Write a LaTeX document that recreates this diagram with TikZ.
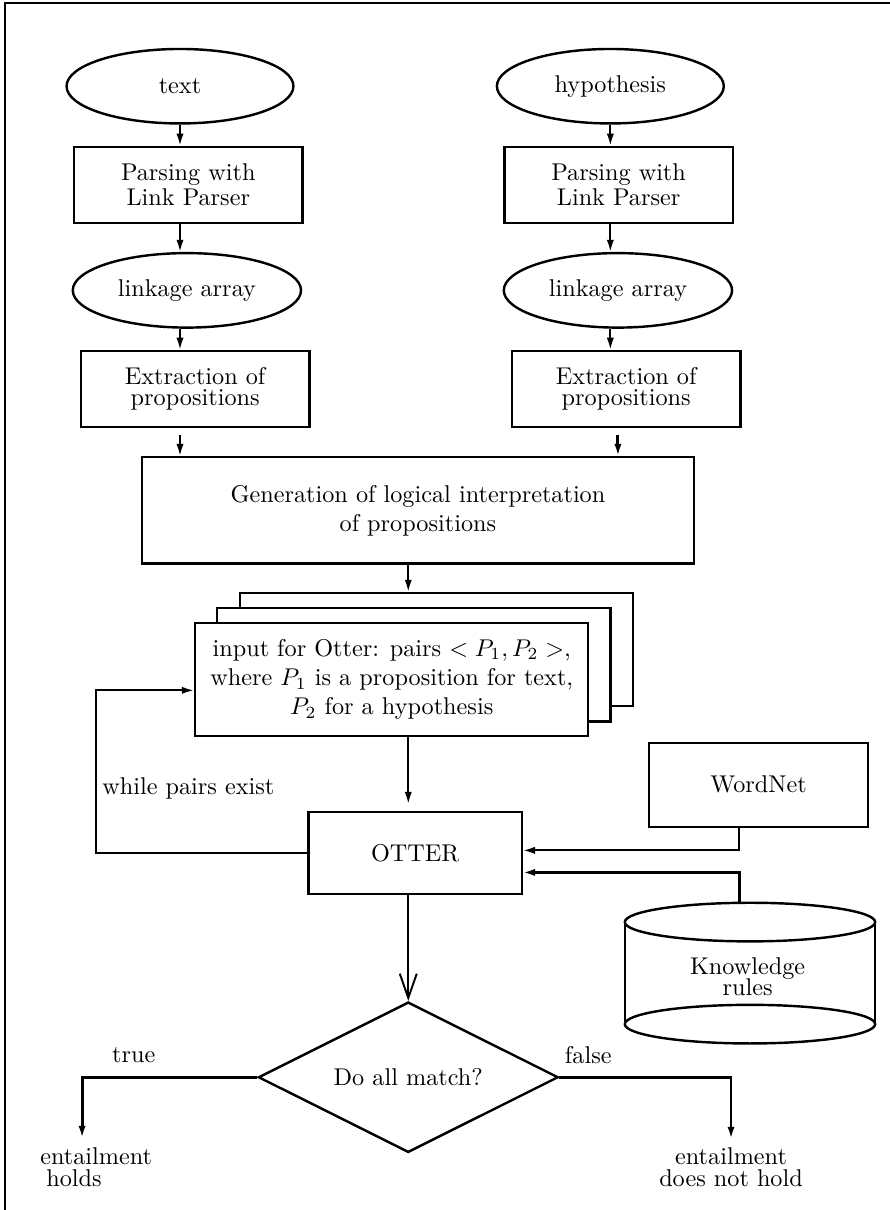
\documentclass[tikz,border=0pt]{standalone}
\usetikzlibrary{shapes.geometric, arrows.meta, calc}

\tikzset{
    box/.style={draw, line width=1pt, rectangle, align=center, fill=white,
        minimum width=3.31cm, minimum height=1.10cm},
    oval/.style={draw, line width=1pt, ellipse, minimum width=3.29cm, minimum height=1.08cm},
    arr/.style={thick, -{Latex[length=5pt,width=3pt]}},
}

\begin{document}
\begin{tikzpicture}
            \useasboundingbox (0,0) rectangle (12.905,-17.545);
            \draw[line width=1pt] (0.07,-17.6) -- (0.07,-0.04) -- (12.95,-0.04);

            % two input columns
            \node[oval] (text) at (2.61,-1.25) {text};
            \node[oval] (hyp) at (8.85,-1.25) {hypothesis};
            \node[box] (parse1) at (2.73,-2.68) {Parsing with\\[-1.7pt] Link Parser};
            \node[box] (parse2) at (8.97,-2.68) {Parsing with\\[-1.7pt] Link Parser};
            \node[oval, minimum width=3.31cm] (link1) at (2.71,-4.21) {linkage array};
            \node[oval, minimum width=3.31cm] (link2) at (8.96,-4.21) {linkage array};
            \node[box] (extr1) at (2.83,-5.64) {Extraction of\\[-3.2pt] propositions};
            \node[box] (extr2) at (9.08,-5.64) {Extraction of\\[-3.2pt] propositions};

            \node[box, minimum width=8cm, minimum height=1.54cm] (gen) at (6.06,-7.40)
                {Generation of logical interpretation\\ of propositions};

            % stack of pairs
            \node[box, minimum width=5.70cm, minimum height=1.64cm] (back) at (6.33,-9.42) {};
            \node[box, minimum width=5.70cm, minimum height=1.64cm] (mid) at (6.00,-9.64) {};
            \node[box, minimum width=5.70cm, minimum height=1.64cm] (input) at (5.68,-9.85)
                {input for Otter: pairs $< P_1, P_2 >$,\\ where $P_1$ is a proposition for text,\\ $P_2$ for a hypothesis};

            \node[box, minimum width=3.09cm, minimum height=1.19cm] (otter) at (6.02,-12.37) {OTTER};
            \node[box, minimum width=3.18cm, minimum height=1.22cm] (wordnet) at (11.0,-11.38) {WordNet};

            % knowledge base cylinder
            \draw[line width=1pt] (9.06,-13.37) -- (9.06,-14.85);
            \draw[line width=1pt] (12.69,-13.37) -- (12.69,-14.85);
            \draw[line width=1pt] (10.875,-13.37) ellipse [x radius=1.815cm, y radius=0.28cm];
            \draw[line width=1pt] (10.875,-14.85) ellipse [x radius=1.815cm, y radius=0.28cm];
            \node[align=center] (kb) at (10.84,-14.16) {Knowledge\\[-3.5pt] rules};
            \coordinate (kbtop) at (10.72,-13.09);

            \node[draw, line width=1pt, diamond, aspect=2, inner sep=0,
                minimum width=4.35cm, minimum height=2.18cm] (match) at (5.92,-15.62) {Do all match?};

            \node (truelbl) at (1.94,-15.30) {true};
            \node (falselbl) at (8.53,-15.30) {false};
            \node[anchor=west, align=left] (holds) at (0.46,-16.92) {entailment\\[-3pt]\hspace{2.5pt}holds};
            \node[align=center] (nothold) at (10.60,-16.92) {entailment\\[-3pt] does not hold};
            \coordinate (tend) at (1.19,-16.50);
            \node[anchor=west] (loop) at (1.36,-11.43) {while pairs exist};

            % connectors
            \draw[arr] (text.south) -- (text.south |- parse1.north);
            \draw[arr] (text.south |- parse1.south) -- (text.south |- link1.north);
            \draw[arr] (text.south |- link1.south) -- (text.south |- extr1.north);
            \draw[arr, shorten <=0.1cm] (text.south |- extr1.south) -- (text.south |- gen.north);
            \draw[arr] (hyp.south) -- (hyp.south |- parse2.north);
            \draw[arr] (hyp.south |- parse2.south) -- (hyp.south |- link2.north);
            \draw[arr] (hyp.south |- link2.south) -- (hyp.south |- extr2.north);
            \draw[arr, very thick, shorten <=0.1cm] (link2.south |- extr2.south) -- (link2.south |- gen.north);
            \draw[arr] (match.north |- gen.south) -- (match.north |- back.north);
            \draw[arr, shorten >=0.1cm] (match.north |- input.south) -- (match.north |- otter.north);
            \draw[arr] (otter.west) -- ++(-3.07,0) |- ([yshift=-0.16cm]input.west);
            \draw[arr] ([xshift=-0.28cm]wordnet.south) |- ([yshift=0.04cm]otter.east);
            \draw[arr, very thick] (kbtop) |- ([yshift=-0.28cm]otter.east);
            \draw[thick, -{Straight Barb[length=10pt,width=7pt]}] (match.north |- otter.south) -- (match.north);
            \draw[arr, very thick] (match.west) -| (tend);
            \draw[arr, very thick] (match.east) -| (nothold.north);
\end{tikzpicture}
\end{document}
